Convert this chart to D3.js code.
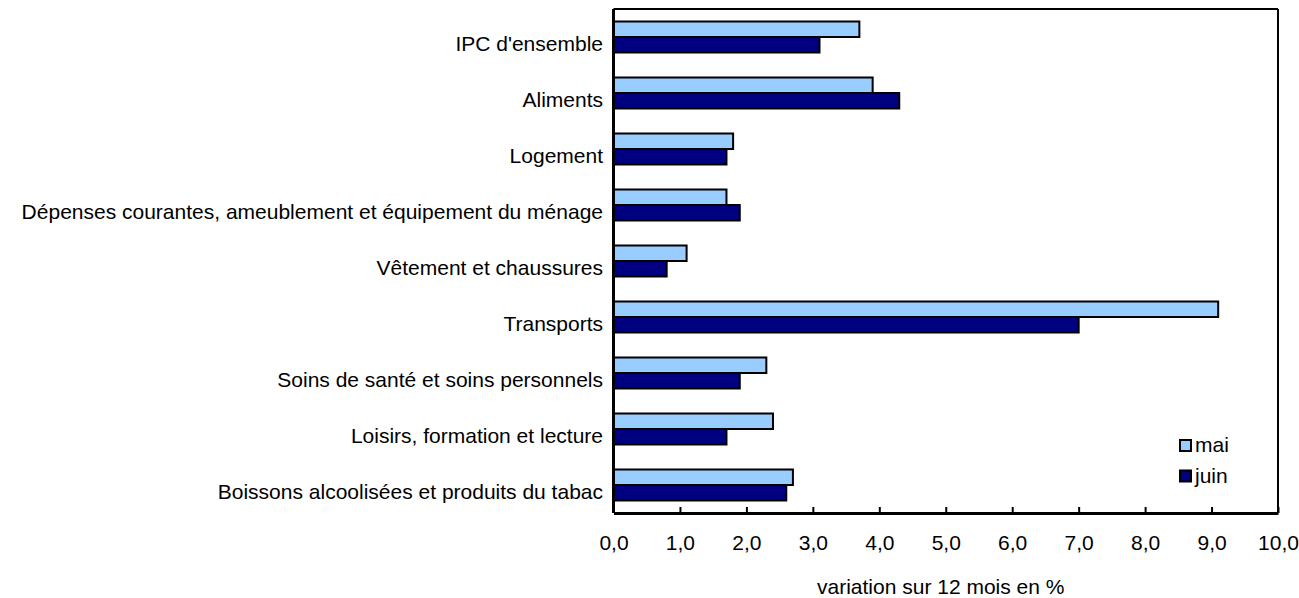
<!DOCTYPE html>
<html>
<head>
<meta charset="utf-8">
<script src="https://cdn.jsdelivr.net/npm/d3@7/dist/d3.min.js"></script>
<style>
  body { margin: 0; background: #fff; }
  svg { font-family: "Liberation Sans", Arial, sans-serif; }
</style>
</head>
<body>
<svg id="svg" width="1299" height="598"></svg>
<script>
var categories = [
    "IPC d'ensemble",
    "Aliments",
    "Logement",
    "Dépenses courantes, ameublement et équipement du ménage",
    "Vêtement et chaussures",
    "Transports",
    "Soins de santé et soins personnels",
    "Loisirs, formation et lecture",
    "Boissons alcoolisées et produits du tabac"
];
var seriesNames = ["mai", "juin"];
var mai = [3.7, 3.9, 1.8, 1.7, 1.1, 9.1, 2.3, 2.4, 2.7];
var juin = [3.1, 4.3, 1.7, 1.9, 0.8, 7.0, 1.9, 1.7, 2.6];
var tickValues = [0, 1, 2, 3, 4, 5, 6, 7, 8, 9, 10];
var colors = ["#99ccff", "#000080"];
var axisTitle = "variation sur 12 mois en %";

var svg = d3.select("#svg");
var margin = { left: 613.5, right: 21, top: 9, bottom: 85 };
var width = 1299 - margin.left - margin.right,
    height = 598 - margin.top - margin.bottom;
var fs = 21;

var g = svg.append("g").attr("transform", "translate(" + margin.left + "," + margin.top + ")");

var x = d3.scaleLinear().domain([0, 10]).range([0, width]);
var y = d3.scaleBand().domain(categories).range([0, height]);
var barH = 15.5;

var data = categories.map(function (c, i) {
    return { cat: c, vals: [mai[i], juin[i]] };
});

// frame top/right
g.append("line").attr("x1", 0).attr("x2", width).attr("y1", 0).attr("y2", 0)
    .attr("stroke", "#000").attr("stroke-width", 2);
g.append("line").attr("x1", width).attr("x2", width).attr("y1", 0).attr("y2", height)
    .attr("stroke", "#000").attr("stroke-width", 2);

var groups = g.selectAll(".cat").data(data).enter().append("g")
    .attr("transform", function (d) { return "translate(0," + (y(d.cat) + y.bandwidth() / 2) + ")"; });

groups.selectAll("rect").data(function (d) { return d.vals; }).enter().append("rect")
    .attr("x", 0)
    .attr("y", function (d, i) { return i === 0 ? -barH : 0; })
    .attr("width", function (d) { return x(d); })
    .attr("height", barH)
    .attr("fill", function (d, i) { return colors[i]; })
    .attr("stroke", "#000")
    .attr("stroke-width", 2);

// category labels
g.selectAll(".lab").data(categories).enter().append("text")
    .attr("x", -10.5)
    .attr("y", function (d) { return y(d) + y.bandwidth() / 2 + 13.5; })
    .attr("text-anchor", "end")
    .attr("font-size", fs)
    .text(function (d) { return d; });

// x axis
var xAxis = d3.axisBottom(x).tickValues(tickValues).tickSizeInner(-6).tickSizeOuter(0)
    .tickPadding(22)
    .tickFormat(function (d) { return d3.format(".1f")(d).replace(".", ","); });
var ax = g.append("g").attr("transform", "translate(0," + height + ")").call(xAxis);
ax.select(".domain").attr("stroke-width", 3);
ax.selectAll(".tick line").attr("stroke-width", 2);
ax.selectAll("text").attr("font-size", fs).attr("fill", "#000").attr("font-family", "Liberation Sans, Arial, sans-serif");

// y axis line
g.append("line").attr("x1", 0).attr("x2", 0).attr("y1", 0).attr("y2", height)
    .attr("stroke", "#000").attr("stroke-width", 3);

g.append("text")
    .attr("x", width / 2 - 5)
    .attr("y", height + 81)
    .attr("text-anchor", "middle")
    .attr("font-size", fs)
    .text(axisTitle);

// legend
var leg = g.append("g").attr("transform", "translate(" + (1179 - margin.left) + "," + (439 - margin.top) + ")");
seriesNames.forEach(function (s, i) {
    leg.append("rect").attr("x", 1).attr("y", i * 30.5 + 1).attr("width", 11).attr("height", 11)
        .attr("fill", colors[i]).attr("stroke", "#000").attr("stroke-width", 2);
    leg.append("text").attr("x", 16).attr("y", i * 30.5 + 13)
        .attr("font-size", fs).text(s);
});
</script>
</body>
</html>
